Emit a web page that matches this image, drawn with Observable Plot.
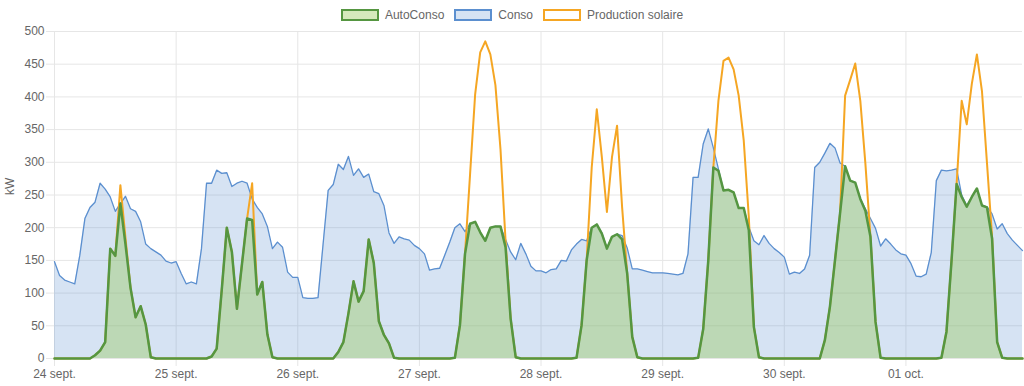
<!DOCTYPE html>
<html>
<head>
<meta charset="utf-8">
<script src="https://cdn.jsdelivr.net/npm/d3@7"></script>
<script src="https://cdn.jsdelivr.net/npm/@observablehq/plot@0.6"></script>
<style>
  html, body { margin: 0; padding: 0; background: #fff; }
  #legend { height: 22px; box-sizing: border-box; padding-top: 8px; display: flex; justify-content: center; align-items: center;
    font: 12px "Liberation Sans", Arial, Helvetica, sans-serif; color: #666; }
  .item { display: flex; align-items: center; margin: 0 5px; }
  .sw { display: inline-block; width: 34px; height: 8px; border-width: 2px; border-style: solid; margin-right: 6px; }
</style>
</head>
<body>
<div id="legend"></div>
<div id="chart"></div>
<script>
// ---- data (hourly, 24 sept 00:00 -> 01 oct 23:00) ----
const conso = [
148,127,120,117,114,158,214,231,239,268,259,247,225,237,248,229,225,209,175,168,163,158,149,146,
148,130,114,117,114,168,268,268,288,283,284,263,268,271,268,244,231,221,202,168,178,170,132,124,
124,93,92,92,93,175,257,266,297,289,309,280,290,277,282,255,252,234,192,176,186,183,181,173,
168,160,135,137,138,158,178,200,206,194,206,209,193,180,200,202,202,182,163,151,176,160,141,134,
134,131,136,137,150,149,166,175,182,180,200,205,192,169,186,190,188,169,137,137,135,133,131,131,
131,130,129,128,130,160,277,277,328,351,322,290,257,258,254,230,230,201,180,174,188,176,168,162,
155,129,132,130,137,158,292,300,314,329,322,299,294,272,269,244,229,214,199,172,183,175,166,160,
158,145,126,125,129,162,272,288,287,288,290,250,234,247,260,234,232,221,198,206,191,181,173,165
];
const autoConso = [
0,0,0,0,0,0,0,0,5,12,25,168,157,237,175,108,63,80,52,2,0,0,0,0,
0,0,0,0,0,0,0,3,15,105,200,163,76,145,214,212,98,117,37,2,0,0,0,0,
0,0,0,0,0,0,0,0,10,25,69,118,87,103,182,146,57,36,23,1,0,0,0,0,
0,0,0,0,0,0,0,1,51,160,206,209,193,180,200,202,202,170,61,2,0,0,0,0,
0,0,0,0,0,0,0,1,51,150,200,205,191,168,186,190,182,130,33,2,0,0,0,0,
0,0,0,0,0,0,0,1,45,150,292,287,257,258,254,230,230,196,48,2,0,0,0,0,
0,0,0,0,0,0,0,0,28,79,150,222,294,272,269,244,226,186,56,1,0,0,0,0,
0,0,0,0,0,0,0,1,41,150,267,247,232,247,260,234,231,183,25,1,0,0,0,0
];
const production = [
0,0,0,0,0,0,0,0,5,12,25,168,157,265,185,108,63,80,52,2,0,0,0,0,
0,0,0,0,0,0,0,3,15,105,200,163,76,145,214,268,98,117,37,2,0,0,0,0,
0,0,0,0,0,0,0,0,10,25,69,118,87,103,182,146,57,36,23,1,0,0,0,0,
0,0,0,0,0,0,0,1,51,160,282,404,468,485,465,418,320,180,61,2,0,0,0,0,
0,0,0,0,0,0,0,1,51,150,292,381,308,224,308,356,231,130,33,2,0,0,0,0,
0,0,0,0,0,0,0,1,45,150,292,394,455,460,442,402,333,216,48,2,0,0,0,0,
0,0,0,0,0,0,0,0,28,79,150,222,402,426,451,394,298,186,56,1,0,0,0,0,
0,0,0,0,0,0,0,1,41,150,267,394,358,420,465,409,298,186,25,1,0,0,0,0
];
const xTickLabels = ["24 sept.", "25 sept.", "26 sept.", "27 sept.", "28 sept.", "29 sept.", "30 sept.", "01 oct."];
const yTicks = [0, 50, 100, 150, 200, 250, 300, 350, 400, 450, 500];
const seriesNames = ["AutoConso", "Conso", "Production solaire"];
const yLabel = "kW";

// ---- build table ----
const start = new Date(2023, 8, 24, 0, 0, 0);
const data = conso.map((v, i) => ({
  t: d3.timeHour.offset(start, i),
  conso: v,
  auto: autoConso[i],
  prod: production[i]
}));
const dayTicks = xTickLabels.map((_, i) => d3.timeDay.offset(start, i));
const labelOf = new Map(dayTicks.map((d, i) => [d.getTime(), xTickLabels[i]]));

// ---- legend ----
const swatches = [
  {fill: "rgba(149,200,88,0.4)", stroke: "#559641"},
  {fill: "rgba(91,143,208,0.25)", stroke: "#5b8fcf"},
  {fill: "#fff", stroke: "#f5a623"}
];
const legend = document.getElementById("legend");
seriesNames.forEach((name, i) => {
  const it = document.createElement("div");
  it.className = "item";
  const sw = document.createElement("span");
  sw.className = "sw";
  sw.style.background = swatches[i].fill;
  sw.style.borderColor = swatches[i].stroke;
  const tx = document.createElement("span");
  tx.textContent = name;
  it.appendChild(sw); it.appendChild(tx);
  legend.appendChild(it);
});

// ---- chart ----
const grid = "#e6e6e6";
const chart = Plot.plot({
  width: 1024,
  height: 364,
  marginLeft: 54,
  marginRight: 2,
  marginTop: 9,
  marginBottom: 28,
  style: {fontFamily: "'Liberation Sans', Arial, Helvetica, sans-serif", fontSize: "12px", color: "#666", background: "#fff"},
  x: {type: "time", domain: [data[0].t, data[data.length - 1].t]},
  y: {domain: [0, 500]},
  marks: [
    Plot.gridY(yTicks, {stroke: grid, strokeOpacity: 1}),
    Plot.gridX(dayTicks, {stroke: grid, strokeOpacity: 1}),
    Plot.axisY(yTicks, {tickSize: 8, tickPadding: 2, stroke: grid, strokeOpacity: 1, fill: "#666", label: null}),
    Plot.axisX(dayTicks, {tickSize: 8, tickPadding: 3, stroke: grid, strokeOpacity: 1, fill: "#666", label: null,
      tickFormat: d => labelOf.get(d.getTime())}),
    Plot.areaY(data, {x: "t", y: "conso", fill: "rgb(91,143,208)", fillOpacity: 0.25}),
    Plot.lineY(data, {x: "t", y: "conso", stroke: "#5b8fcf", strokeWidth: 1.3}),
    Plot.lineY(data, {x: "t", y: "prod", stroke: "#f5a623", strokeWidth: 2}),
    Plot.areaY(data, {x: "t", y: "auto", fill: "rgb(149,200,88)", fillOpacity: 0.4}),
    Plot.lineY(data, {x: "t", y: "auto", stroke: "#559641", strokeWidth: 2.5}),
    Plot.text([yLabel], {text: d => d, frameAnchor: "left", dx: -44, rotate: -90, fill: "#666", fontSize: 12})
  ]
});
document.getElementById("chart").appendChild(chart);
</script>
</body>
</html>
